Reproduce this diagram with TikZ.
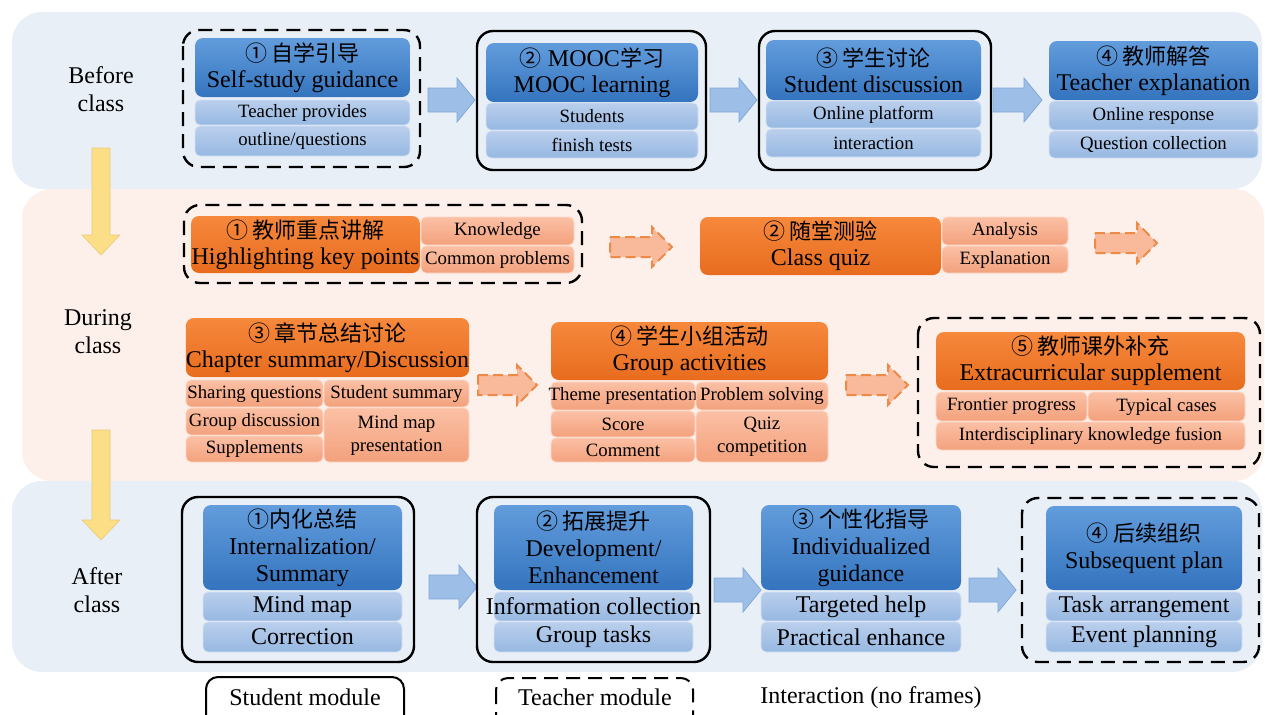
\documentclass[tikz,border=0pt]{standalone}
\usepackage{fontspec}
\setmainfont{Liberation Serif}
\newfontfamily\cjk{Noto Sans CJK SC}
\newcommand\cj[1]{{\cjk\fontsize{11}{13}\selectfont #1}}
\definecolor{bandB}{RGB}{233,239,247}
\definecolor{bandO}{RGB}{253,239,233}
\definecolor{hbTop}{RGB}{98,156,220}
\definecolor{hbBot}{RGB}{52,116,190}
\definecolor{sbTop}{RGB}{186,207,236}
\definecolor{sbBot}{RGB}{150,184,226}
\definecolor{hoTop}{RGB}{246,136,60}
\definecolor{hoBot}{RGB}{232,108,30}
\definecolor{soTop}{RGB}{251,192,165}
\definecolor{soBot}{RGB}{243,161,124}
\definecolor{arB}{RGB}{157,191,231}
\definecolor{arBd}{RGB}{128,168,218}
\definecolor{arO}{RGB}{248,186,154}
\definecolor{arOd}{RGB}{238,138,72}
\definecolor{yel}{RGB}{252,222,135}
\newcommand\bx[7]{\node[#2, minimum width={(#5-#3)*0.5pt}, minimum height={(#6-#4)*0.5pt}] (#1) at ({(#3+#5)/2},{(#4+#6)/2}) {#7};}
\newcommand\barw[3]{\draw[barr] (#1,#3-12) -- (#2-18,#3-12) -- (#2-18,#3-22) -- (#2,#3) -- (#2-18,#3+22) -- (#2-18,#3+12) -- (#1,#3+12) -- cycle;}
\newcommand\oarw[3]{\draw[oarr] (#1,#3-10) -- (#2-20,#3-10) -- (#2-20,#3-20) -- (#2,#3) -- (#2-20,#3+20) -- (#2-20,#3+10) -- (#1,#3+10) -- cycle;}
\newcommand\yarw[4]{\draw[yarr] (#1-9,#2) -- (#1+9,#2) -- (#1+9,#3) -- (#1+19,#3) -- (#1,#4) -- (#1-19,#3) -- (#1-9,#3) -- cycle;}
\tikzset{
  box/.style={inner sep=0pt, outer sep=0pt, align=center, text=black},
  hb/.style={box, rounded corners=4pt, top color=hbTop, bottom color=hbBot, font={\fontsize{12}{13}\selectfont}},
  hbt/.style={hb, font={\fontsize{12}{13.5}\selectfont}},
  sb/.style={box, rounded corners=2.5pt, top color=sbTop, bottom color=sbBot, draw=sbTop!60!white, line width=0.4pt, font={\fontsize{9.4}{11}\selectfont}},
  sbl/.style={sb, font={\fontsize{12}{14}\selectfont}},
  ho/.style={box, rounded corners=4pt, top color=hoTop, bottom color=hoBot, font={\fontsize{12}{13}\selectfont}},
  so/.style={box, rounded corners=2.5pt, top color=soTop, bottom color=soBot, draw=soTop!60!white, line width=0.4pt, font={\fontsize{9.4}{11.5}\selectfont}},
  frameS/.style={draw=black, line width=1.2pt, rounded corners=8pt},
  frameD/.style={frameS, dash pattern=on 7pt off 4pt},
  barr/.style={fill=arB, draw=arBd, line width=0.4pt},
  oarr/.style={fill=arO, draw=arOd, line width=1pt, dash pattern=on 5pt off 2.5pt},
  yarr/.style={fill=yel, draw=yel!92!black, line width=0.3pt},
  lab/.style={align=center, font={\fontsize{12}{14}\selectfont}},
}
\begin{document}
\begin{tikzpicture}[x=0.5pt,y=-0.5pt]
\useasboundingbox (0,0) rectangle (1265,714);
% bands
\fill[bandB, rounded corners=15pt] (12,12) rectangle (1262,189);
\fill[bandO, rounded corners=15pt] (22,189) rectangle (1264,481);
\fill[bandB, rounded corners=15pt] (12,481) rectangle (1262,672);
% phase labels
\node[lab] (before) at (101,89) {Before\\class};
\node[lab] (during) at (98,332) {During\\class};
\node[lab] (after) at (97,590) {After\\class};
\yarw{101}{148}{235}{255}
\yarw{101}{430}{520}{540}

% ---------- before class ----------
\draw[frameD] (183,30) rectangle (420,167);
\bx{h1}{hb}{195}{38}{410}{97}{\cj{① 自学引导}\\Self-study guidance}
\bx{s1a}{sb}{195}{100}{410}{125}{Teacher provides}
\bx{s1b}{sb}{195}{126}{410}{156}{outline/questions}
\barw{428}{475}{100}
\draw[frameS] (477,31) rectangle (706,170);
\bx{h2}{hb}{486}{43}{698}{102}{\cj{②} MOOC\cj{学习}\\MOOC learning}
\bx{s2a}{sb}{486}{103}{698}{130}{Students}
\bx{s2b}{sb}{486}{131}{698}{158}{finish tests}
\barw{710}{757}{100}
\draw[frameS] (759,31) rectangle (991,170);
\bx{h3}{hb}{766}{40}{981}{100}{\cj{③ 学生讨论}\\Student discussion}
\bx{s3a}{sb}{766}{101}{981}{128}{Online platform}
\bx{s3b}{sb}{766}{129}{981}{157}{interaction}
\barw{993}{1042}{100}
\bx{h4}{hb}{1049}{41}{1258}{100}{\cj{④ 教师解答}\\Teacher explanation}
\bx{s4a}{sb}{1049}{101}{1258}{130}{Online response}
\bx{s4b}{sb}{1049}{131}{1258}{158}{Question collection}

% ---------- during class ----------
\draw[frameD] (184,205) rectangle (582,283);
\bx{d1}{ho}{191}{216}{420}{273}{\cj{① 教师重点讲解}\\Highlighting key points}
\bx{d1a}{so}{421}{217}{574}{245}{Knowledge}
\bx{d1b}{so}{421}{246}{574}{273}{Common problems}
\oarw{610}{672}{247}
\bx{d2}{ho}{700}{217}{941}{275}{\cj{② 随堂测验}\\Class quiz}
\bx{d2a}{so}{942}{217}{1068}{245}{Analysis}
\bx{d2b}{so}{942}{246}{1068}{273}{Explanation}
\oarw{1095}{1157}{243}
\bx{d3}{ho}{186}{318}{469}{377}{\cj{③ 章节总结讨论}\\Chapter summary/Discussion}
\bx{d3a}{so}{186}{380}{323}{407}{Sharing questions}
\bx{d3b}{so}{186}{408}{323}{435}{Group discussion}
\bx{d3c}{so}{186}{436}{323}{462}{Supplements}
\bx{d3d}{so}{324}{380}{469}{407}{Student summary}
\bx{d3e}{so}{324}{408}{469}{462}{Mind map\\presentation}
\oarw{478}{537}{385}
\bx{d4}{ho}{551}{322}{828}{380}{\cj{④ 学生小组活动}\\Group activities}
\bx{d4a}{so}{551}{382}{695}{410}{\makebox[0pt]{Theme presentation}}
\bx{d4b}{so}{551}{411}{695}{437}{Score}
\bx{d4c}{so}{551}{438}{695}{462}{Comment}
\bx{d4d}{so}{696}{382}{828}{410}{Problem solving}
\bx{d4e}{so}{696}{411}{828}{462}{Quiz\\competition}
\oarw{846}{908}{385}
\draw[frameD] (918,318) rectangle (1260,467);
\bx{d5}{ho}{936}{332}{1245}{390}{\cj{⑤ 教师课外补充}\\Extracurricular supplement}
\bx{d5a}{so}{936}{392}{1087}{421}{Frontier progress}
\bx{d5b}{so}{1088}{392}{1245}{421}{Typical cases}
\bx{d5c}{so}{936}{422}{1245}{450}{Interdisciplinary knowledge fusion}

% ---------- after class ----------
\draw[frameS] (182,497) rectangle (414,662);
\bx{a1}{hbt}{203}{505}{402}{590}{\cj{①内化总结}\\Internalization/\\Summary}
\bx{a1a}{sbl}{203}{592}{402}{621}{Mind map}
\bx{a1b}{sbl}{203}{622}{402}{652}{Correction}
\barw{429}{477}{587}
\draw[frameS] (477,497) rectangle (710,662);
\bx{a2}{hbt}{494}{505}{693}{590}{\cj{② 拓展提升}\\Development/\\Enhancement}
\bx{a2a}{sbl}{494}{592}{693}{621}{\makebox[0pt]{Information collection}}
\bx{a2b}{sbl}{494}{622}{693}{652}{Group tasks}
\barw{714}{761}{590}
\bx{a3}{hbt}{761}{505}{961}{590}{\cj{③ 个性化指导}\\Individualized\\guidance}
\bx{a3a}{sbl}{761}{592}{961}{621}{Targeted help}
\bx{a3b}{sbl}{761}{622}{961}{652}{Practical enhance}
\barw{969}{1016}{590}
\draw[frameD] (1022,498) rectangle (1259,662);
\bx{a4}{hbt}{1046}{506}{1242}{590}{\cj{④ 后续组织}\\Subsequent plan}
\bx{a4a}{sbl}{1046}{592}{1242}{621}{Task arrangement}
\bx{a4b}{sbl}{1046}{622}{1242}{652}{Event planning}

% ---------- legend ----------
\draw[draw=black, line width=1pt, rounded corners=6pt] (206,677) rectangle (404,735);
\node[lab] (lgS) at (305,697) {Student module};
\draw[draw=black, line width=1pt, rounded corners=6pt, dash pattern=on 7pt off 4pt] (496,678) rectangle (693,735);
\node[lab] (lgT) at (595,697) {Teacher module};
\node[lab] (lgI) at (871,698) {Interaction (no frames)};
\end{tikzpicture}
\end{document}
